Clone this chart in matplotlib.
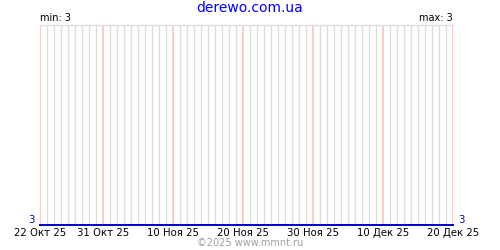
import numpy as np
import matplotlib
matplotlib.use('Agg')
import matplotlib.pyplot as plt
import matplotlib.dates as mdates
from datetime import datetime

# data: one value, flat over the whole period
dates = ['2025-10-22', '2025-12-20']
values = [3, 3]
label_dates = ['2025-10-22', '2025-10-31', '2025-11-10', '2025-11-20',
               '2025-11-30', '2025-12-10', '2025-12-20']
label_text = ['22 Окт 25', '31 Окт 25', '10 Ноя 25', '20 Ноя 25',
              '30 Ноя 25', '10 Дек 25', '20 Дек 25']
title = 'derewo.com.ua'
footer = '©2025 www.mmnt.ru'

x = [datetime.strptime(d, '%Y-%m-%d') for d in dates]
xl = [datetime.strptime(d, '%Y-%m-%d') for d in label_dates]

fig = plt.figure(figsize=(5, 2.5), dpi=100)
ax = fig.add_axes([0.08, 0.1, 0.826, 0.8])

ax.set_xlim(x[0], x[-1])
ax.set_ylim(3, 4)

# daily gray grid, pink at labelled dates
ax.xaxis.set_minor_locator(mdates.DayLocator())
ax.set_xticks(xl)
ax.set_xticklabels(label_text, fontsize=7.3)
ax.grid(which='minor', axis='x', color='#dddddd', lw=1)
ax.grid(which='major', axis='x', color='#ffbbbb', lw=1.1, zorder=2)
ax.set_axisbelow(True)
ax.tick_params(axis='x', which='both', length=0, pad=2)
ax.set_yticks([])

for side in ['left', 'right', 'bottom']:
    ax.spines[side].set_visible(False)
ax.spines['top'].set_color('#dddddd')
ax.spines['top'].set_linewidth(1)

ax.plot(x, values, color='#0000cc', lw=1.4, clip_on=False, zorder=3)

ax.text(-0.012, 0.0, str(min(values)), transform=ax.transAxes, color='#0000cc',
        fontsize=7.3, ha='right', va='bottom')
ax.text(1.012, 0.0, str(values[-1]), transform=ax.transAxes, color='#0000cc',
        fontsize=7.3, ha='left', va='bottom')
ax.text(0.0, 1.01, f'min: {min(values)}', transform=ax.transAxes,
        fontsize=7, ha='left', va='bottom')
ax.text(1.0, 1.01, f'max: {max(values)}', transform=ax.transAxes,
        fontsize=7, ha='right', va='bottom')

fig.text(0.5, 0.97, title, color='#0000ff', fontsize=10, ha='center', va='center')
fig.text(0.5, 0.03, footer, color='#a0a0a0', fontsize=7, ha='center', va='center')

fig.savefig('out.png', dpi=100)
